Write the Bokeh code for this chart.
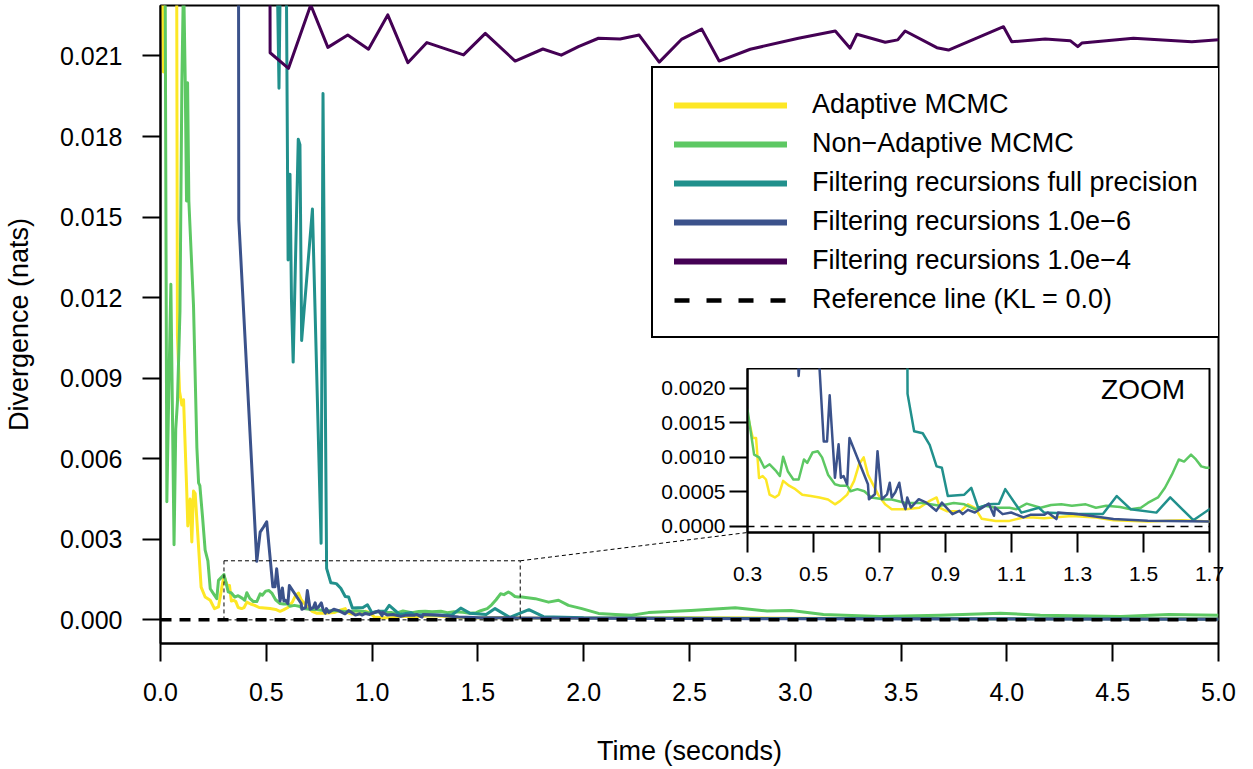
import numpy as np
from bokeh.plotting import figure
from bokeh.models import (Range1d, FixedTicker, PrintfTickFormatter, Legend, LegendItem,
                          Label, Column)
from bokeh.embed import file_html
from bokeh.resources import INLINE

FONT = "Liberation Sans"

# ---------------- data (time in seconds, divergence in nats) ----------------
adaptive_t = [0.000, 0.008, 0.014, 0.020, 0.045, 0.075, 0.080, 0.090, 0.101, 0.109, 0.124, 0.129,
              0.140, 0.148, 0.156, 0.164, 0.176, 0.192, 0.211, 0.235, 0.255, 0.274, 0.290, 0.300,
              0.316, 0.326, 0.335, 0.346, 0.356, 0.367, 0.383, 0.395, 0.408, 0.426, 0.445, 0.466,
              0.492, 0.518, 0.544, 0.565, 0.581, 0.602, 0.623, 0.638, 0.652, 0.665, 0.680, 0.696,
              0.717, 0.737, 0.779, 0.821, 0.852, 0.873, 0.883, 0.904, 0.946, 0.968, 0.989, 1.010,
              1.052, 1.094, 1.136, 1.167, 1.199, 1.283, 1.356, 1.409, 1.513, 1.617, 1.700, 2.000,
              2.500, 3.000, 3.500, 4.000, 4.500, 5.000]
adaptive_kl = [0.0290, 0.0235, 0.0204, 0.0260, 0.0300, 0.0300, 0.0106, 0.0085, 0.0080, 0.0082, 0.0048, 0.0035,
               0.0045, 0.0029, 0.0048, 0.0047, 0.0032, 0.00122, 0.00085, 0.00073, 0.00042, 0.00048, 0.00122, 0.00162,
               0.00128, 0.00128, 0.00070, 0.00073, 0.00068, 0.00046, 0.00042, 0.00046, 0.00066, 0.00059, 0.00054, 0.00046,
               0.00044, 0.00042, 0.00039, 0.00032, 0.00037, 0.00046, 0.00066, 0.00090, 0.00100, 0.00075, 0.00061, 0.00046,
               0.00032, 0.00025, 0.00025, 0.00027, 0.00037, 0.00042, 0.00027, 0.00022, 0.00022, 0.00032, 0.00027, 0.00011,
               0.00008, 0.00008, 0.00013, 0.00013, 0.00012, 0.00015, 0.00013, 0.00009, 0.00007, 0.00009, 0.00007, 0.00006,
               0.00008, 0.00006, 0.00005, 0.00004, 0.00004, 0.00003]

nonadaptive_t = [0.000, 0.022, 0.030, 0.038, 0.049, 0.064, 0.072, 0.080, 0.092, 0.101, 0.109, 0.117,
                 0.123, 0.128, 0.134, 0.156, 0.172, 0.180, 0.186, 0.199, 0.211, 0.224, 0.235, 0.250,
                 0.266, 0.274, 0.290, 0.300, 0.320, 0.335, 0.351, 0.367, 0.387, 0.398, 0.408, 0.422,
                 0.439, 0.455, 0.471, 0.481, 0.497, 0.513, 0.526, 0.544, 0.565, 0.581, 0.602, 0.612,
                 0.633, 0.654, 0.675, 0.717, 0.737, 0.779, 0.831, 0.883, 0.925, 0.957, 0.989, 1.020,
                 1.052, 1.094, 1.115, 1.146, 1.188, 1.220, 1.251, 1.283, 1.325, 1.356, 1.387, 1.429,
                 1.461, 1.492, 1.513, 1.544, 1.565, 1.586, 1.607, 1.623, 1.644, 1.659, 1.675, 1.690,
                 1.708, 1.771, 1.834, 1.881, 1.928, 1.991, 2.070, 2.150, 2.226, 2.306, 2.507, 2.716,
                 2.867, 2.981, 3.133, 3.399, 3.684, 3.969, 4.158, 4.538, 4.766, 5.000]
nonadaptive_kl = [0.0290, 0.0240, 0.0044, 0.0080, 0.0125, 0.0028, 0.0071, 0.0081, 0.0115, 0.0200, 0.0240, 0.0200,
                  0.0156, 0.0200, 0.0156, 0.0117, 0.0064, 0.0051, 0.0050, 0.0038, 0.0026, 0.0022, 0.00116, 0.00098,
                  0.00079, 0.00147, 0.00160, 0.00169, 0.00104, 0.00100, 0.00085, 0.00090, 0.00080, 0.00073, 0.00101, 0.00080,
                  0.00068, 0.00068, 0.00097, 0.00092, 0.00107, 0.00109, 0.00100, 0.00075, 0.00061, 0.00059, 0.00059, 0.00051,
                  0.00054, 0.00051, 0.00042, 0.00039, 0.00039, 0.00034, 0.00034, 0.00030, 0.00034, 0.00032, 0.00025, 0.00030,
                  0.00027, 0.00027, 0.00025, 0.00033, 0.00027, 0.00031, 0.00032, 0.00030, 0.00032, 0.00027, 0.00030, 0.00028,
                  0.00025, 0.00027, 0.00034, 0.00042, 0.00056, 0.00075, 0.00097, 0.00094, 0.00104, 0.00097, 0.00087, 0.00085,
                  0.00085, 0.00079, 0.00066, 0.00073, 0.00054, 0.00042, 0.00024, 0.00020, 0.00017, 0.00027, 0.00035, 0.00045,
                  0.00033, 0.00035, 0.00020, 0.00013, 0.00017, 0.00025, 0.00017, 0.00013, 0.00020, 0.00017]

full_t = [0.540, 0.560, 0.575, 0.590, 0.603, 0.612, 0.619, 0.627, 0.651, 0.659, 0.667, 0.718,
          0.759, 0.768, 0.785, 0.805, 0.831, 0.852, 0.873, 0.889, 0.907, 0.957, 0.978, 0.999,
          1.031, 1.062, 1.081, 1.130, 1.183, 1.199, 1.304, 1.377, 1.419, 1.461, 1.539, 1.581,
          1.651, 1.700, 1.741, 1.810, 2.000, 3.000, 4.000, 5.000]
full_kl = [0.0300, 0.0198, 0.0300, 0.0300, 0.0134, 0.0166, 0.0119, 0.0096, 0.0179, 0.0177, 0.0104, 0.0153,
           0.00285, 0.0196, 0.00192, 0.00138, 0.00135, 0.00118, 0.00087, 0.00085, 0.00044, 0.00046, 0.00056, 0.00027,
           0.00032, 0.00033, 0.00054, 0.00020, 0.00027, 0.00020, 0.00018, 0.00018, 0.00044, 0.00025, 0.00020, 0.00042,
           0.00009, 0.00025, 0.00038, 0.00012, 0.00008, 0.00005, 0.00004, 0.00003]

e6_t = [0.368, 0.370, 0.455, 0.471, 0.487, 0.502, 0.531, 0.541, 0.549, 0.565, 0.576, 0.583,
        0.591, 0.602, 0.609, 0.665, 0.668, 0.686, 0.694, 0.707, 0.723, 0.731, 0.737, 0.748,
        0.760, 0.769, 0.779, 0.784, 0.795, 0.819, 0.842, 0.872, 0.889, 0.921, 0.942, 0.952,
        0.968, 0.989, 1.031, 1.047, 1.050, 1.073, 1.099, 1.136, 1.157, 1.199, 1.210, 1.236,
        1.241, 1.304, 1.409, 1.513, 1.700, 2.000, 3.000, 4.000, 5.000]
e6_kl = [0.0300, 0.0149, 0.00218, 0.00327, 0.00346, 0.00365, 0.00123, 0.00123, 0.00190, 0.000705, 0.00119, 0.000705,
         0.00073, 0.000609, 0.00128, 0.00061, 0.000394, 0.000465, 0.00109, 0.000394, 0.000465, 0.000633, 0.00042, 0.000494,
         0.000633, 0.000369, 0.00025, 0.00042, 0.000274, 0.000394, 0.000345, 0.000226, 0.000345, 0.000178, 0.000226, 0.000178,
         0.00024, 0.000202, 0.000331, 0.000154, 0.000274, 0.000178, 0.000202, 0.00013, 0.000168, 0.000168, 0.000202, 0.000106,
         0.000202, 0.000178, 0.000106, 0.000082, 0.000072, 0.00006, 0.00004, 0.00003, 0.00002]

e4_t = [0.516, 0.518, 0.605, 0.710, 0.791, 0.885, 0.983, 1.074, 1.169, 1.259, 1.432, 1.535,
        1.676, 1.807, 1.894, 1.975, 2.070, 2.172, 2.262, 2.357, 2.464, 2.558, 2.640, 2.787,
        3.015, 3.189, 3.259, 3.291, 3.425, 3.484, 3.519, 3.669, 3.724, 3.984, 4.023, 4.181,
        4.299, 4.335, 4.354, 4.598, 4.874, 5.000]
e4_kl = [0.0300, 0.02112, 0.02054, 0.02290, 0.02132, 0.02178, 0.02125, 0.02253, 0.02075, 0.02150, 0.02104, 0.02184,
         0.02081, 0.02126, 0.02103, 0.02135, 0.02166, 0.02163, 0.02178, 0.02077, 0.02163, 0.02200, 0.02081, 0.02125,
         0.02166, 0.02193, 0.02129, 0.02181, 0.02151, 0.02160, 0.02193, 0.02131, 0.02122, 0.02209, 0.02153, 0.02163,
         0.02157, 0.02135, 0.02148, 0.02166, 0.02153, 0.02160]

ref_t = [0.0, 5.0]
ref_kl = [0.0, 0.0]

x_ticks = [0.0, 0.5, 1.0, 1.5, 2.0, 2.5, 3.0, 3.5, 4.0, 4.5, 5.0]
y_ticks = [0.000, 0.003, 0.006, 0.009, 0.012, 0.015, 0.018, 0.021]
ylim_main = [0.0, 0.022]

zoom_t = [0.3, 1.7]
zoom_kl = [0.0, 0.0022]
inset_x_ticks = [0.3, 0.5, 0.7, 0.9, 1.1, 1.3, 1.5, 1.7]
inset_y_ticks = [0.0000, 0.0005, 0.0010, 0.0015, 0.0020]

labels = ["Adaptive MCMC", "Non\u2212Adaptive MCMC", "Filtering recursions full precision",
          "Filtering recursions 1.0e\u22126", "Filtering recursions 1.0e\u22124", "Reference line (KL = 0.0)"]
colors = ["#FDE725", "#5DC863", "#21908C", "#3B528B", "#440154"]
series = [(adaptive_t, adaptive_kl), (nonadaptive_t, nonadaptive_kl), (full_t, full_kl),
          (e6_t, e6_kl), (e4_t, e4_kl)]

# ---------------- layout constants ----------------
M_FW, M_FH = 1058, 638
M_LEFT, M_BOTTOM, M_TOP = 158, 126, 5
I_FW, I_FH = 462, 164
I_POS_LEFT, I_POS_TOP = 587, 368          # inset figure position (its left border is synced to M_LEFT)


def r_ext(lo, hi):
    d = 0.04 * (hi - lo)
    return lo - d, hi + d


def style_axis(ax, tick_out, standoff, font_size):
    ax.major_tick_out = tick_out
    ax.major_tick_in = 0
    ax.minor_tick_line_color = None
    ax.axis_line_width = 2
    ax.major_tick_line_width = 2
    ax.major_label_standoff = standoff
    ax.major_label_text_font = FONT
    ax.major_label_text_font_size = font_size
    ax.major_label_text_color = "black"
    ax.axis_label_text_font = FONT
    ax.axis_label_text_font_style = "normal"
    ax.axis_label_text_color = "black"


y0, y1 = r_ext(*ylim_main)
p = figure(frame_width=M_FW, frame_height=M_FH, x_range=Range1d(0, 5), y_range=Range1d(y0, y1),
           output_backend="svg", toolbar_location=None, min_border_left=M_LEFT,
           min_border_right=20, min_border_top=M_TOP, min_border_bottom=M_BOTTOM)
p.xgrid.visible = False
p.ygrid.visible = False
p.outline_line_color = "black"
p.outline_line_width = 2
p.outline_line_alpha = 1

p.xaxis.ticker = FixedTicker(ticks=x_ticks, minor_ticks=[])
p.xaxis.formatter = PrintfTickFormatter(format="%.1f")
p.yaxis.ticker = FixedTicker(ticks=y_ticks, minor_ticks=[])
p.yaxis.formatter = PrintfTickFormatter(format="%.3f")
style_axis(p.xaxis[0], 18, 21, "25px")
style_axis(p.yaxis[0], 18, 20, "25px")
p.xaxis.axis_label = "Time (seconds)"
p.yaxis.axis_label = "Divergence (nats)"
p.xaxis.axis_label_text_font_size = "27px"
p.yaxis.axis_label_text_font_size = "27px"
p.xaxis.axis_label_standoff = 32
p.yaxis.axis_label_standoff = 23

for (t, kl), c in zip(series, colors):
    p.line(t, kl, line_color=c, line_width=3, line_join="round")
p.line(ref_t, ref_kl, line_color="black", line_width=3.5, line_dash="11 8")

# zoom window + connector to the inset's lower-left corner
p.quad(left=[zoom_t[0]], right=[zoom_t[1]], bottom=[zoom_kl[0]], top=[zoom_kl[1]],
       fill_color=None, line_color="black", line_width=1, line_dash="4 3")
corner_t = I_POS_LEFT / M_FW * 5.0
corner_kl = y1 - (I_POS_TOP + I_FH - M_TOP) / M_FH * (y1 - y0)
p.line([zoom_t[1], corner_t], [zoom_kl[1], corner_kl], line_color="black", line_width=1, line_dash="4 3")

# legend with thick glyphs (renderers hold a single NaN point, so draw nothing in the plot)
nan = np.array([np.nan])
items = []
for lab, c in zip(labels[:5], colors):
    r = p.line(nan, nan, line_color=c, line_width=6, line_cap="round")
    items.append(LegendItem(label=lab, renderers=[r]))
r = p.line(nan, nan, line_color="black", line_width=4.5, line_dash="15 17")
items.append(LegendItem(label=labels[5], renderers=[r]))
legend = Legend(items=items, location=(491, 305), margin=0, padding=21, spacing=8,
                glyph_width=113, glyph_height=20, label_height=20, label_standoff=25,
                label_text_font=FONT, label_text_font_size="27px", label_text_color="black",
                border_line_color="black", border_line_width=2, border_line_alpha=1,
                background_fill_color="white", background_fill_alpha=1)
p.add_layout(legend)

# ---------------- inset ----------------
iy0, iy1 = r_ext(*zoom_kl)
ins = figure(frame_width=I_FW, frame_height=I_FH, x_range=Range1d(*zoom_t), y_range=Range1d(iy0, iy1),
             output_backend="svg", toolbar_location=None, min_border_left=M_LEFT, min_border_right=20,
             min_border_top=0, min_border_bottom=60,
             background_fill_color="white", border_fill_alpha=0,
             styles={"position": "absolute", "left": f"{I_POS_LEFT}px", "top": f"{I_POS_TOP}px"})
ins.xgrid.visible = False
ins.ygrid.visible = False
ins.outline_line_color = "black"
ins.outline_line_width = 2
ins.outline_line_alpha = 1
ins.xaxis.ticker = FixedTicker(ticks=inset_x_ticks, minor_ticks=[])
ins.xaxis.formatter = PrintfTickFormatter(format="%.1f")
ins.yaxis.ticker = FixedTicker(ticks=inset_y_ticks, minor_ticks=[])
ins.yaxis.formatter = PrintfTickFormatter(format="%.4f")
style_axis(ins.xaxis[0], 20, 14, "21px")
style_axis(ins.yaxis[0], 18, 4, "21px")
for (t, kl), c in zip(series, colors):
    ins.line(t, kl, line_color=c, line_width=2.5, line_join="round")
ins.line(ref_t, ref_kl, line_color="black", line_width=1.5, line_dash="8 6")
ins.add_layout(Label(x=1.626, y=0.00198, text="ZOOM", text_align="right", text_baseline="middle",
                     text_font=FONT, text_font_size="28px", text_color="black"))

layout = Column(children=[p, ins])
open("out.html", "w").write(file_html(layout, INLINE))
